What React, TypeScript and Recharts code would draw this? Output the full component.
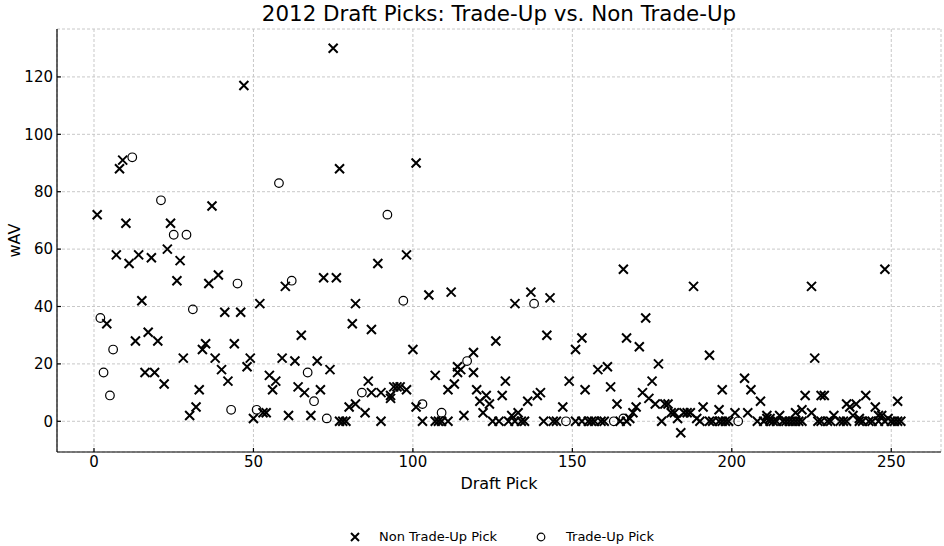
import React from 'react';
import { ScatterChart, Scatter, XAxis, YAxis, CartesianGrid, Legend } from 'recharts';

// [draft pick, wAV]
const nonTradeUp: [number, number][] = [
    [1, 72], [4, 34], [7, 58], [8, 88], [9, 91], [10, 69], [11, 55], [13, 28], [14, 58], [15, 42],
    [16, 17], [17, 31], [18, 57], [19, 17], [20, 28], [22, 13], [23, 60], [24, 69], [26, 49], [27, 56],
    [28, 22], [30, 2], [32, 5], [33, 11], [34, 25], [35, 27], [36, 48], [37, 75], [38, 22], [39, 51],
    [40, 18], [41, 38], [42, 14], [44, 27], [46, 38], [47, 117], [48, 19], [49, 22], [50, 1], [52, 41],
    [53, 3], [54, 3], [55, 16], [56, 11], [57, 14], [59, 22], [60, 47], [61, 2], [63, 21], [64, 12],
    [65, 30], [66, 10], [68, 2], [70, 21], [71, 11], [72, 50], [74, 18], [75, 130], [76, 50], [77, 88],
    [77, 0], [78, 0], [79, 0], [80, 5], [81, 34], [82, 6], [82, 41], [85, 3], [86, 14], [87, 10],
    [87, 32], [89, 55], [90, 0], [90, 10], [93, 8], [93, 9], [94, 12], [95, 12], [96, 12], [98, 11],
    [98, 58], [100, 25], [101, 5], [101, 90], [103, 0], [105, 44], [107, 16], [107, 0], [108, 0], [109, 0],
    [111, 11], [111, 0], [112, 45], [113, 13], [114, 19], [114, 17], [115, 18], [116, 2], [119, 24], [119, 17],
    [120, 11], [121, 7], [122, 3], [123, 9], [124, 6], [125, 0], [126, 28], [127, 0], [128, 9], [129, 14],
    [130, 0], [131, 2], [132, 0], [132, 41], [133, 3], [134, 0], [135, 0], [136, 7], [137, 45], [139, 9],
    [140, 10], [141, 0], [142, 30], [143, 43], [144, 0], [145, 0], [147, 5], [149, 14], [151, 0], [151, 25],
    [153, 0], [153, 29], [154, 11], [155, 0], [156, 0], [157, 0], [158, 18], [159, 0], [160, 0], [161, 19],
    [162, 12], [164, 6], [165, 0], [166, 53], [167, 29], [167, 0], [168, 1], [169, 3], [170, 5], [171, 26],
    [172, 10], [173, 36], [174, 8], [175, 14], [176, 6], [177, 20], [178, 0], [179, 6], [180, 6], [181, 3],
    [182, 3], [183, 1], [184, -4], [185, 3], [186, 3], [187, 3], [188, 47], [189, 1], [190, 0], [191, 5],
    [193, 23], [193, 0], [194, 0], [196, 0], [197, 0], [198, 0], [199, 0], [196, 4], [197, 11], [201, 3],
    [204, 15], [205, 3], [206, 11], [208, 0], [209, 7], [210, 0], [211, 1], [211, 2], [212, 1], [212, 0],
    [213, 0], [214, 0], [215, 2], [216, 0], [217, 0], [218, 0], [219, 0], [220, 0], [220, 3], [221, 0],
    [222, 0], [222, 4], [223, 9], [225, 3], [225, 47], [226, 22], [227, 0], [228, 0], [228, 9], [229, 9],
    [230, 0], [231, 0], [232, 2], [234, 0], [235, 0], [236, 0], [236, 6], [237, 5], [238, 2], [239, 6],
    [240, 1], [240, 0], [241, 0], [242, 9], [243, 0], [244, 0], [245, 5], [246, 0], [246, 2], [247, 2],
    [248, 53], [248, 0], [249, 1], [250, 0], [251, 0], [252, 7], [252, 0], [253, 0],
];

const tradeUp: [number, number][] = [
    [2, 36], [3, 17], [5, 9], [6, 25], [12, 92], [21, 77], [25, 65], [29, 65], [31, 39], [43, 4],
    [45, 48], [51, 4], [58, 83], [62, 49], [67, 17], [69, 7], [73, 1], [84, 10], [92, 72], [97, 42],
    [103, 6], [109, 3], [117, 21], [138, 41], [148, 0], [163, 0], [166, 1], [202, 0],
];

const xTicks = [0, 50, 100, 150, 200, 250];
const yTicks = [0, 20, 40, 60, 80, 100, 120];

const FONT = 'DejaVu Sans';

const toRows = (pairs: [number, number][]) => pairs.map(([pick, wav]) => ({ pick, wav }));

const Cross = (props: any) => {
    const { cx, cy } = props;
    const s = 4.5;
    return (
        <path
            d={`M${cx - s},${cy - s}L${cx + s},${cy + s}M${cx - s},${cy + s}L${cx + s},${cy - s}`}
            stroke="#000"
            strokeWidth={2}
            fill="none"
        />
    );
};

const Ring = (props: any) => {
    const { cx, cy } = props;
    return <circle cx={cx} cy={cy} r={4.3} stroke="#000" strokeWidth={1.2} fill="none" />;
};

const renderLegend = () => (
    <div style={{ position: 'relative', height: 18, fontFamily: FONT, fontSize: 13, color: '#000' }}>
        <svg style={{ position: 'absolute', left: 350, top: 4 }} width={10} height={10}>
            <path d="M1,1L9,9M1,9L9,1" stroke="#000" strokeWidth={2} />
        </svg>
        <span style={{ position: 'absolute', left: 379, top: 0, lineHeight: '18px', whiteSpace: 'nowrap' }}>
            Non Trade-Up Pick
        </span>
        <svg style={{ position: 'absolute', left: 536, top: 4 }} width={10} height={10}>
            <circle cx={5} cy={5} r={3.8} stroke="#000" strokeWidth={1.2} fill="none" />
        </svg>
        <span style={{ position: 'absolute', left: 566, top: 0, lineHeight: '18px', whiteSpace: 'nowrap' }}>
            Trade-Up Pick
        </span>
    </div>
);

export default function App() {
    return (
        <div style={{ position: 'absolute', left: 0, top: 0, width: 944, height: 546, background: '#fff' }}>
            <div
                style={{
                    position: 'absolute',
                    left: 57,
                    top: 1,
                    width: 884,
                    textAlign: 'center',
                    fontFamily: FONT,
                    fontSize: 21.4,
                    lineHeight: '25px',
                    color: '#000',
                    zIndex: 1,
                }}
            >
                2012 Draft Picks: Trade-Up vs. Non Trade-Up
            </div>
            <ScatterChart width={944} height={546} margin={{ top: 29, right: 3, bottom: 34, left: 0 }}>
                <CartesianGrid stroke="#c8c8c8" strokeDasharray="3 2" />
                <XAxis
                    type="number"
                    dataKey="pick"
                    domain={[-11.6, 265.6]}
                    ticks={xTicks}
                    allowDataOverflow
                    height={60}
                    stroke="#000"
                    strokeWidth={1.2}
                    tickSize={-4}
                    tickMargin={8}
                    tick={{ fill: '#000', fontSize: 15, fontFamily: FONT }}
                    label={{ value: 'Draft Pick', position: 'insideBottom', offset: 23, fill: '#000', fontSize: 16, fontFamily: FONT }}
                />
                <YAxis
                    type="number"
                    dataKey="wav"
                    domain={[-10.7, 136.7]}
                    ticks={yTicks}
                    allowDataOverflow
                    width={57}
                    stroke="#000"
                    strokeWidth={1.2}
                    tickSize={-4}
                    tickMargin={8}
                    tick={{ fill: '#000', fontSize: 15, fontFamily: FONT }}
                    label={{
                        value: 'wAV',
                        angle: -90,
                        position: 'insideLeft',
                        offset: 14,
                        fill: '#000',
                        fontSize: 16,
                        fontFamily: FONT,
                        style: { textAnchor: 'middle' },
                    }}
                />
                <Legend
                    layout="horizontal"
                    verticalAlign="middle"
                    align="center"
                    content={renderLegend}
                    wrapperStyle={{ top: 528, left: 0, width: 944, height: 18 }}
                />
                <Scatter name="Non Trade-Up Pick" data={toRows(nonTradeUp)} shape={Cross} isAnimationActive={false} />
                <Scatter name="Trade-Up Pick" data={toRows(tradeUp)} shape={Ring} isAnimationActive={false} />
            </ScatterChart>
        </div>
    );
}
